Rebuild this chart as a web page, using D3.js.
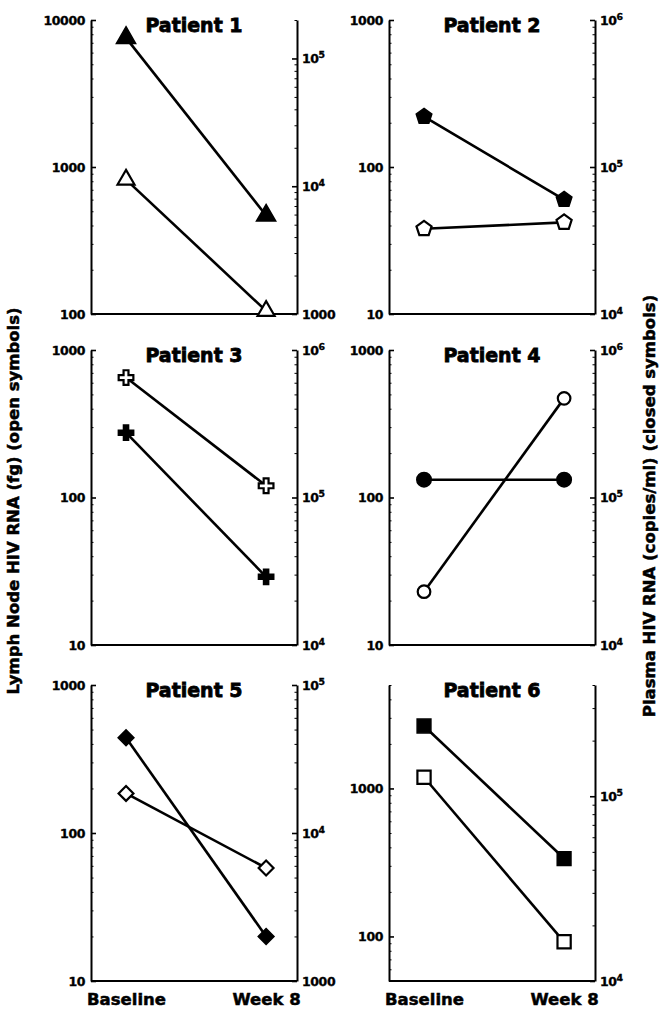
<!DOCTYPE html>
<html>
<head>
<meta charset="utf-8">
<script src="https://cdn.jsdelivr.net/npm/d3@7"></script>
<style>
  body { margin: 0; background: #fff; }
  svg { display: block; }
  text { font-family: "DejaVu Sans", "Liberation Sans", sans-serif; font-weight: bold; fill: #000; }
</style>
</head>
<body>
<svg id="chart" width="668" height="1011"></svg>
<script>
// ---------------- data ----------------
const patients = ["Patient 1", "Patient 2", "Patient 3", "Patient 4", "Patient 5", "Patient 6"];
const timepoints = ["Baseline", "Week 8"];
const symbolNames = ["triangle", "pentagon", "cross", "circle", "diamond", "square"];

// Lymph node HIV RNA (fg) – open symbols, left axis
const lymphBaseline = [820, 38, 650, 23, 185, 1190];
const lymphWeek8    = [105, 42, 120, 470, 58, 92];

// Plasma HIV RNA (copies/ml) – closed symbols, right axis
const plasmaBaseline = [145000, 220000, 275000, 132000, 44000, 240000];
const plasmaWeek8    = [5900, 60000, 29000, 132000, 2000, 46000];

// axis domains
const leftDomains  = [[100, 10000], [10, 1000], [10, 1000], [10, 1000], [10, 1000], [50, 5000]];
const rightDomains = [[1000, 200000], [1e4, 1e6], [1e4, 1e6], [1e4, 1e6], [1000, 1e5], [1e4, 4e5]];

// labelled tick values
const leftTickValues  = [[100, 1000, 10000], [10, 100, 1000], [10, 100, 1000], [10, 100, 1000], [10, 100, 1000], [100, 1000]];
const rightTickValues = [[1000, 1e4, 1e5], [1e4, 1e5, 1e6], [1e4, 1e5, 1e6], [1e4, 1e5, 1e6], [1000, 1e4, 1e5], [1e4, 1e5]];
const plainRightLabels = [1000]; // printed as plain number instead of power notation

const leftTitle  = "Lymph Node HIV RNA (fg) (open symbols)";
const rightTitle = "Plasma HIV RNA (copies/ml) (closed symbols)";

// ---------------- layout ----------------
const colLeft = [91, 389];
const panelW = 206;
const rowTop = [20, 350, 685];
const rowBottom = [314, 645, 981];

const svg = d3.select("#chart");

// custom symbol types
const pentagon = {
  draw(ctx, size) {
    const r = Math.sqrt(size / 2.3776);
    for (let i = 0; i < 5; i++) {
      const a = -Math.PI / 2 + i * 2 * Math.PI / 5;
      const px = r * Math.cos(a), py = r * Math.sin(a);
      if (i === 0) ctx.moveTo(px, py); else ctx.lineTo(px, py);
    }
    ctx.closePath();
  }
};
const diamond = {
  draw(ctx, size) {
    const h = Math.sqrt(size / 2);
    ctx.moveTo(0, -h); ctx.lineTo(h, 0); ctx.lineTo(0, h); ctx.lineTo(-h, 0); ctx.closePath();
  }
};
const symbolTypes = {
  triangle: d3.symbolTriangle, pentagon: pentagon, cross: d3.symbolCross,
  circle: d3.symbolCircle, diamond: diamond, square: d3.symbolSquare
};
const closedSize = {triangle: 160, pentagon: 160, cross: 130, circle: 165, diamond: 125, square: 190};
const openSize   = {triangle: 125, pentagon: 150, cross: 120, circle: 125, diamond: 110, square: 175};

function minorTicks(domain) {
  const out = [];
  const lo = Math.floor(Math.log10(domain[0])), hi = Math.ceil(Math.log10(domain[1]));
  for (let e = lo; e <= hi; e++) {
    for (let m = 2; m <= 9; m++) {
      const v = m * Math.pow(10, e);
      if (v >= domain[0] * 0.999 && v <= domain[1] * 1.001) out.push(v);
    }
  }
  return out;
}
function powerLabel(sel) {
  sel.each(function(d) {
    const t = d3.select(this);
    if (plainRightLabels.includes(d)) { t.text(String(d)); return; }
    const e = Math.round(Math.log10(d));
    t.text("10");
    t.append("tspan").attr("dy", "-0.5em").attr("font-size", "0.75em").text(String(e));
  });
}

patients.forEach((name, i) => {
  const col = i % 2, row = Math.floor(i / 2);
  const x0 = colLeft[col], x1 = x0 + panelW;
  const y0 = rowTop[row], y1 = rowBottom[row];
  const g = svg.append("g");

  const x = d3.scalePoint().domain(timepoints).range([x0 + 0.17 * panelW, x0 + 0.85 * panelW]);
  const yL = d3.scaleLog().domain(leftDomains[i]).range([y1, y0]);
  const yR = d3.scaleLog().domain(rightDomains[i]).range([y1, y0]);

  // left axis: minor then major
  g.append("g").attr("transform", `translate(${x0},0)`)
    .call(d3.axisLeft(yL).tickValues(minorTicks(leftDomains[i])).tickSizeInner(-2.5).tickSizeOuter(0).tickFormat(""))
    .call(a => a.select(".domain").remove());
  const la = g.append("g").attr("transform", `translate(${x0},0)`)
    .call(d3.axisLeft(yL).tickValues(leftTickValues[i]).tickSizeInner(-5).tickSizeOuter(0).tickPadding(6).tickFormat(d => String(d)));
  la.selectAll(".tick text").attr("font-size", 12.5).attr("font-family", "DejaVu Sans").attr("font-weight", "bold")
    .attr("letter-spacing", -0.4).attr("stroke", "#000").attr("stroke-width", 0.35);
  la.select(".domain").attr("stroke-width", 2);
  la.selectAll(".tick line").attr("stroke-width", 1.6);

  // right axis
  g.append("g").attr("transform", `translate(${x1},0)`)
    .call(d3.axisRight(yR).tickValues(minorTicks(rightDomains[i])).tickSizeInner(-2.5).tickSizeOuter(0).tickFormat(""))
    .call(a => a.select(".domain").remove());
  const ra = g.append("g").attr("transform", `translate(${x1},0)`)
    .call(d3.axisRight(yR).tickValues(rightTickValues[i]).tickSizeInner(-5).tickSizeOuter(0).tickPadding(5));
  ra.selectAll(".tick text").attr("font-size", 12.5).attr("font-family", "DejaVu Sans").attr("font-weight", "bold")
    .attr("letter-spacing", -0.4).attr("stroke", "#000").attr("stroke-width", 0.35).call(powerLabel);
  ra.select(".domain").attr("stroke-width", 2);
  ra.selectAll(".tick line").attr("stroke-width", 1.6);

  // bottom axis
  const ba = g.append("g").attr("transform", `translate(0,${y1})`)
    .call(d3.axisBottom(x).tickSize(0).tickPadding(12.5).tickFormat(row === 2 ? (d => d) : () => ""));
  ba.select(".domain").attr("d", `M${x0},0H${x1}`).attr("stroke-width", 2);
  ba.selectAll(".tick text").attr("font-size", 16.5).attr("font-family", "DejaVu Sans").attr("font-weight", "bold")
    .attr("stroke", "#000").attr("stroke-width", 0.5);

  // title
  g.append("text").attr("x", (x0 + x1) / 2).attr("y", y0 + 12)
    .attr("text-anchor", "middle").attr("font-size", 19)
    .attr("stroke", "#000").attr("stroke-width", 0.8).text(name);

  const sym = symbolNames[i];
  const lineGen = d3.line().x(d => d[0]).y(d => d[1]);

  const openPts = [[x(timepoints[0]), yL(lymphBaseline[i])], [x(timepoints[1]), yL(lymphWeek8[i])]];
  const closedPts = [[x(timepoints[0]), yR(plasmaBaseline[i])], [x(timepoints[1]), yR(plasmaWeek8[i])]];

  g.append("path").attr("d", lineGen(closedPts)).attr("fill", "none").attr("stroke", "#000").attr("stroke-width", 2.6);
  g.append("path").attr("d", lineGen(openPts)).attr("fill", "none").attr("stroke", "#000").attr("stroke-width", 2.6);

  g.selectAll(".closed").data(closedPts).join("path")
    .attr("transform", d => `translate(${d[0]},${d[1]})`)
    .attr("d", d3.symbol().type(symbolTypes[sym]).size(closedSize[sym]))
    .attr("fill", "#000").attr("stroke", "#000").attr("stroke-width", 1.5);
  g.selectAll(".open").data(openPts).join("path")
    .attr("transform", d => `translate(${d[0]},${d[1]})`)
    .attr("d", d3.symbol().type(symbolTypes[sym]).size(openSize[sym]))
    .attr("fill", "#fff").attr("stroke", "#000").attr("stroke-width", 2.2);
});

// axis titles
svg.append("text").attr("transform", "translate(19,501) rotate(-90)")
  .attr("text-anchor", "middle").attr("font-size", 16.5)
  .attr("stroke", "#000").attr("stroke-width", 0.5).text(leftTitle);
svg.append("text").attr("transform", "translate(655,506) rotate(-90)")
  .attr("text-anchor", "middle").attr("font-size", 16.5)
  .attr("stroke", "#000").attr("stroke-width", 0.5).text(rightTitle);
</script>
</body>
</html>
